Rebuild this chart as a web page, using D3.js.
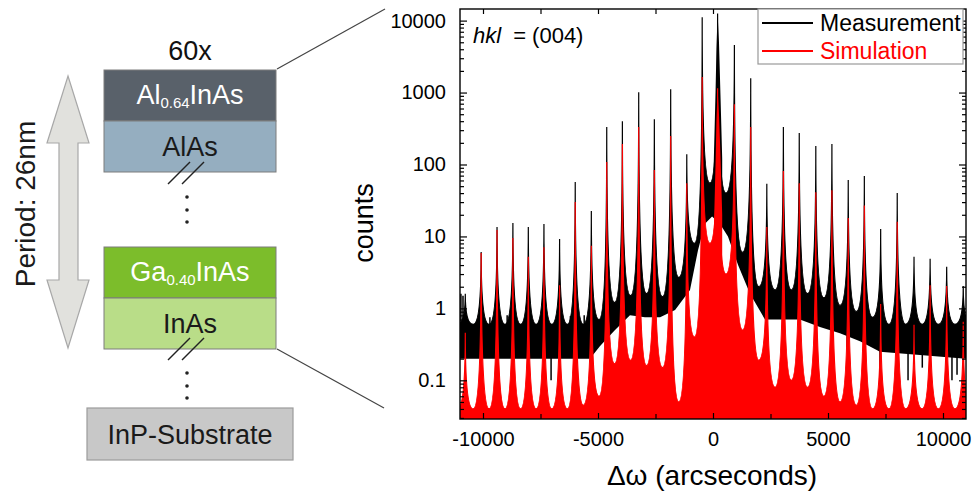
<!DOCTYPE html>
<html>
<head>
<meta charset="UTF-8">
<script src="https://d3js.org/d3.v7.min.js"></script>
<style>
	body{margin:0;background:#fff;}
	text{font-family:"Liberation Sans", Arial, sans-serif;}
</style>
</head>
<body>
<script>
// satellite peaks (arcsec) and their heights
var peakPos  = [-10770, -10080, -9390, -8700, -8030, -7350, -6670, -5990, -5290, -4620, -3940, -3230, -2550, -1840, -1140, -470, 200, 930, 1640, 2340, 3060, 3750, 4470, 5170, 5880, 6580, 7290, 8010, 8740, 9440, 10160, 10880];
var measPeak = [1.6, 6.1, 13.5, 15.4, 13.5, 14.9, 9.2, 57, 22.6, 331, 400, 1013, 427, 1113, 139, 11100, 12600, 4580, 1580, 54, 331, 273, 181, 193, 61, 69, 12.7, 40, 5.2, 4.9, 3.8, 2.05];
var simPeak  = [0.46, 5.9, 12.3, 9.5, 5.2, 7.1, 2.1, 30, 7.4, 108, 192, 331, 84, 248, 55, 1640, 1150, 690, 331, 13.5, 81, 55, 41, 44, 18, 27, 1.15, 16, 0.59, 2.1, 2.05, 0.65];

// minima between neighbouring peaks (upper edge of the curves there)
var troughX = [-10425, -9735, -9045, -8365, -7690, -7010, -6330, -5640, -4955, -4280, -3585, -2890, -2195, -1490, -805, -135, 565, 1285, 1990, 2700, 3405, 4110, 4820, 5525, 6230, 6935, 7650, 8375, 9090, 9800, 10520];
var measTrough = [0.6, 0.6, 0.6, 0.6, 0.6, 0.6, 0.6, 0.6, 0.7, 1.2, 1.5, 1.6, 1.45, 2.7, 8, 55, 40, 6, 2, 1.8, 1.8, 1.6, 1.4, 1.1, 0.9, 0.75, 0.6, 0.6, 0.6, 0.6, 0.6];
var simTrough  = [0.04, 0.04, 0.04, 0.04, 0.04, 0.04, 0.04, 0.045, 0.06, 0.17, 0.19, 0.16, 0.15, 0.05, 0.4, 8, 3, 0.5, 0.19, 0.08, 0.1, 0.08, 0.06, 0.05, 0.045, 0.04, 0.04, 0.04, 0.04, 0.04, 0.04];

// broad main (substrate) peak profile
var mainX    = [30, 110, 150, 200, 260, 330, 400];
var mainMeas = [100, 1000, 4000, 12600, 5000, 800, 120];
var mainSim  = [10, 100, 400, 1150, 500, 120, 20];

// lower edge of the measured noise band
var bandX  = [-11000, -5350, -4910, -4260, -3610, -2960, -2300, -1650, -1000, -650, -350, -40, 300, 650, 1090, 1610, 2260, 3780, 4650, 5520, 6390, 7260, 11000];
var bandLo = [0.2, 0.2, 0.3, 0.5, 0.8, 0.75, 0.75, 0.95, 1.8, 6.5, 15, 19, 15, 10, 4, 1.6, 0.7, 0.7, 0.55, 0.45, 0.35, 0.25, 0.2];

// single noise excursions of the measurement
var noiseX = [-10960, -10870, -9700, -8950, -7040, -6200, -5600, 5830, 7260, 8480, 9100, 10390, 10610];
var noiseV = [1.6, 1.5, 0.75, 0.8, 0.1, 0.78, 0.8, 0.29, 0.1, 0.1, 0.15, 0.1, 0.12];

var xTicks = [-10000, -5000, 0, 5000, 10000];
var xMinor = [-7500, -2500, 2500, 7500];
var yTicks = [0.1, 1, 10, 100, 1000, 10000];

var w = 974, h = 496;
var pl = 460, pr = 966, pt = 9, pb = 419;
var red = "#ff0000";

var svg = d3.select("body").append("svg").attr("width", w).attr("height", h);

var x = d3.scaleLinear().domain([-11000, 11000]).range([pl, pr]);
var y = d3.scaleLog().domain([0.029, 14500]).range([pb, pt]);

svg.append("clipPath").attr("id", "plot").append("rect")
	.attr("x", pl).attr("y", pt).attr("width", pr - pl).attr("height", pb - pt);
var g = svg.append("g").attr("clip-path", "url(#plot)");

// upper outline: from each minimum a concave skirt up to the peak top and down again
function outline(tops, troughs){
	var p0 = x(peakPos[0]);
	var s = "M" + (pl - 2) + "," + y(troughs[0]) + "L" + (p0 - 8) + "," + y(troughs[0]);
	var prevY = y(troughs[0]);
	peakPos.forEach(function(d, i){
		var px = x(d), ty = y(tops[i]);
		var nx = i < troughX.length ? x(troughX[i]) : px + 8;
		var ny = i < troughs.length ? y(troughs[i]) : y(troughs[troughs.length - 1]);
		s += "Q" + px + "," + prevY + " " + px + "," + ty;
		s += "Q" + px + "," + ny + " " + nx + "," + ny;
		prevY = ny;
	});
	return s + "L" + (pr + 2) + "," + prevY;
}
var mi = d3.range(mainX.length);

//measurement
var lower = "";
for (var i = bandX.length - 1; i >= 0; i--) lower += "L" + x(bandX[i]) + "," + y(bandLo[i]);
g.append("path").attr("fill", "#000")
	.attr("d", outline(measPeak, measTrough) + lower + "Z");
g.append("path").attr("fill", "none").attr("stroke", "#000").attr("stroke-width", 1.2)
	.attr("d", outline(measPeak, measTrough));
g.append("path").attr("fill", "#000")
	.attr("d", d3.area().x(function(i){return x(mainX[i]);}).y0(y(40)).y1(function(i){return y(mainMeas[i]);})(mi));
g.selectAll(".noise").data(d3.range(noiseX.length)).enter().append("line")
	.attr("x1", function(i){return x(noiseX[i]);}).attr("x2", function(i){return x(noiseX[i]);})
	.attr("y1", function(i){return noiseV[i] < 0.3 ? y(0.45) : y(0.4);}).attr("y2", function(i){return y(noiseV[i]);})
	.attr("stroke", "#000").attr("stroke-width", 1.5);

//simulation
g.append("path").attr("fill", red)
	.attr("d", outline(simPeak, simTrough) + "L" + (pr + 2) + "," + pb + "L" + (pl - 2) + "," + pb + "Z");
g.append("path").attr("fill", "none").attr("stroke", red).attr("stroke-width", 1.2)
	.attr("d", outline(simPeak, simTrough));
g.append("path").attr("fill", red)
	.attr("d", d3.area().x(function(i){return x(mainX[i]);}).y0(pb).y1(function(i){return y(mainSim[i]);})(mi));

//axes
var yMinor = [];
[0.01, 0.1, 1, 10, 100, 1000, 10000].forEach(function(d){
	for (var k = 2; k < 10; k++){ if (k * d > 0.029 && k * d < 14500) yMinor.push(k * d); }
});
var fmt = function(d){return String(d);};
function styleAxis(sel){
	sel.select(".domain").remove();
	sel.selectAll("line").attr("stroke", "#000").attr("stroke-width", 1.2);
	sel.selectAll("text").style("font-size", "20px").attr("fill", "#000").style("font-family", "'Liberation Sans', Arial, sans-serif");
}
svg.append("g").attr("transform", "translate(" + pl + ",0)").call(d3.axisLeft(y).tickValues(yTicks).tickFormat(fmt).tickSize(-7).tickPadding(14)).call(styleAxis);
svg.append("g").attr("transform", "translate(" + pl + ",0)").call(d3.axisLeft(y).tickValues(yMinor).tickFormat("").tickSize(-4)).call(styleAxis);
svg.append("g").attr("transform", "translate(" + pr + ",0)").call(d3.axisRight(y).tickValues(yTicks).tickFormat("").tickSize(-7)).call(styleAxis);
svg.append("g").attr("transform", "translate(" + pr + ",0)").call(d3.axisRight(y).tickValues(yMinor).tickFormat("").tickSize(-4)).call(styleAxis);
svg.append("g").attr("transform", "translate(0," + pb + ")").call(d3.axisBottom(x).tickValues(xTicks).tickFormat(fmt).tickSize(-6).tickPadding(13)).call(styleAxis);
svg.append("g").attr("transform", "translate(0," + pb + ")").call(d3.axisBottom(x).tickValues(xMinor).tickFormat("").tickSize(-5)).call(styleAxis);
svg.append("g").attr("transform", "translate(0," + pt + ")").call(d3.axisTop(x).tickValues(xTicks.concat(xMinor)).tickFormat("").tickSize(-5)).call(styleAxis);

svg.append("rect").attr("x", pl).attr("y", pt).attr("width", pr - pl).attr("height", pb - pt)
	.attr("fill", "none").attr("stroke", "#000").attr("stroke-width", 1.4);

//legend
svg.append("rect").attr("x", 758).attr("y", 9).attr("width", 205).attr("height", 55)
	.attr("fill", "#fff").attr("stroke", "#999").attr("stroke-width", 1.2);
svg.append("line").attr("x1", 762).attr("x2", 813).attr("y1", 23).attr("y2", 23).attr("stroke", "#000").attr("stroke-width", 2);
svg.append("line").attr("x1", 762).attr("x2", 813).attr("y1", 51).attr("y2", 51).attr("stroke", red).attr("stroke-width", 2);
svg.append("text").attr("x", 820).attr("y", 31).style("font-size", "23px").attr("fill", "#000").text("Measurement");
svg.append("text").attr("x", 820).attr("y", 59).style("font-size", "23px").attr("fill", red).text("Simulation");

var hkl = svg.append("text").attr("x", 473).attr("y", 43).style("font-size", "22px");
hkl.append("tspan").style("font-style", "italic").text("hkl");
hkl.append("tspan").attr("dx", 12).text("= (004)");

//axis titles
svg.append("text").attr("transform", "translate(373,223) rotate(-90)").attr("text-anchor", "middle").style("font-size", "27px").text("counts");
svg.append("text").attr("x", 712).attr("y", 485).attr("text-anchor", "middle").style("font-size", "28px").text("Δω (arcseconds)");

//layer sketch
svg.append("line").attr("x1", 277).attr("y1", 69).attr("x2", 385).attr("y2", 9).attr("stroke", "#444").attr("stroke-width", 1.2);
svg.append("line").attr("x1", 277).attr("y1", 349).attr("x2", 384).attr("y2", 408).attr("stroke", "#444").attr("stroke-width", 1.2);

svg.append("polygon")
	.attr("points", "68,76 89,143 78,143 78,280 89,280 68,348 47,280 59,280 59,143 47,143")
	.attr("fill", "#e1e1dd").attr("stroke", "#a8a8a8").attr("stroke-width", 1.2);
svg.append("text").attr("transform", "translate(35,204) rotate(-90)").attr("text-anchor", "middle").style("font-size", "28px").attr("fill", "#1a1a1a").text("Period: 26nm");

svg.append("text").attr("x", 190).attr("y", 60).attr("text-anchor", "middle").style("font-size", "27px").attr("fill", "#111").text("60x");

var layers = [
	{y: 70, fill: "#59616a", color: "#fff", a: "Al", sub: "0.64", b: "InAs", base: 104},
	{y: 121, fill: "#95aec0", color: "#1a1a1a", a: "AlAs", sub: "", b: "", base: 156},
	{y: 247, fill: "#7cbd2b", color: "#fff", a: "Ga", sub: "0.40", b: "InAs", base: 281},
	{y: 298, fill: "#b9dd88", color: "#1a1a1a", a: "InAs", sub: "", b: "", base: 333}
];
layers.forEach(function(l){
	svg.append("rect").attr("x", 104).attr("y", l.y).attr("width", 172).attr("height", 51)
		.attr("fill", l.fill).attr("stroke", "#7d7d7d").attr("stroke-width", 1);
	var t = svg.append("text").attr("x", 190).attr("y", l.base).attr("text-anchor", "middle")
		.style("font-size", "27px").attr("fill", l.color);
	t.append("tspan").text(l.a);
	if (l.sub){
		t.append("tspan").attr("dy", 4).style("font-size", "15px").text(l.sub);
		t.append("tspan").attr("dy", -4).text(l.b);
	}
});
svg.append("rect").attr("x", 87).attr("y", 408).attr("width", 206).attr("height", 52)
	.attr("fill", "#c8c8c8").attr("stroke", "#9c9c9c").attr("stroke-width", 1.2);
svg.append("text").attr("x", 190).attr("y", 444).attr("text-anchor", "middle").style("font-size", "27px").attr("fill", "#1a1a1a").text("InP-Substrate");

[0, 176].forEach(function(dy){
	svg.append("line").attr("x1", 168).attr("y1", 184 + dy).attr("x2", 190).attr("y2", 162 + dy).attr("stroke", "#222").attr("stroke-width", 1.5);
	svg.append("line").attr("x1", 182).attr("y1", 184 + dy).attr("x2", 204).attr("y2", 162 + dy).attr("stroke", "#222").attr("stroke-width", 1.5);
	[197, 210, 222].forEach(function(cy){
		svg.append("circle").attr("cx", 187).attr("cy", cy + dy).attr("r", 1.8).attr("fill", "#222");
	});
});
</script>
</body>
</html>
